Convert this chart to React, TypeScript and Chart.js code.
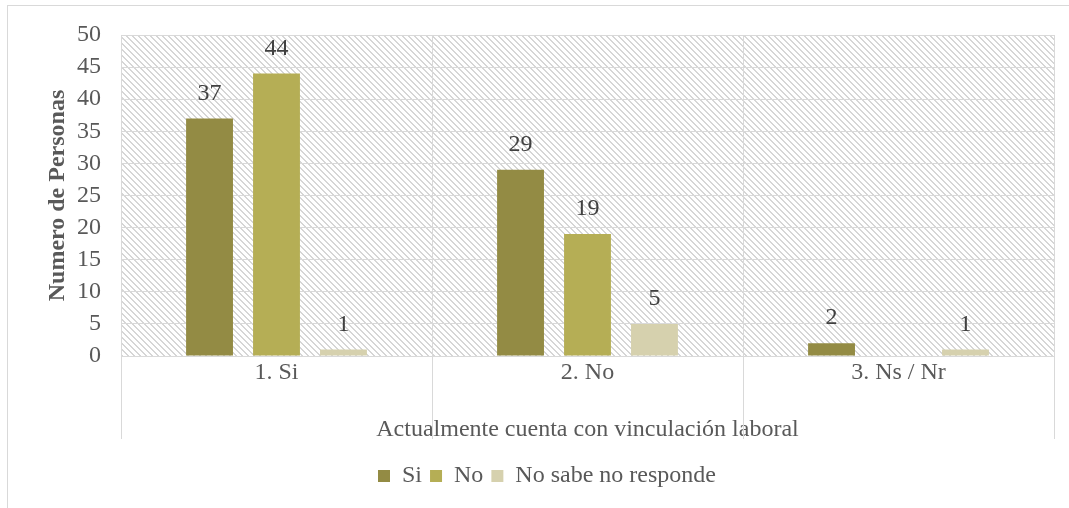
import React, { useEffect, useRef } from "react";
import { Chart, registerables } from "chart.js";

Chart.register(...registerables);

const categories = ["1. Si", "2. No", "3. Ns / Nr"];
const siValues = [37, 29, 2];
const noValues = [44, 19, null];
const nsnrValues = [1, 5, 1];
const seriesNames = ["Si", "No", "No sabe no responde"];
const seriesColors = ["#938B44", "#B5AE55", "#D6D1AE"];

const FONT = "'Liberation Serif', 'Times New Roman', serif";
const TEXT = "#595959";
const GRID = "#d9d9d9";
const FS = 24;

function makeHatch(): CanvasPattern | string {
  const c = document.createElement("canvas");
  c.width = 6;
  c.height = 6;
  const ctx = c.getContext("2d");
  if (!ctx) return "#ffffff";
  ctx.fillStyle = "#ffffff";
  ctx.fillRect(0, 0, 6, 6);
  ctx.fillStyle = "#d6d6d6";
  for (let i = 0; i < 6; i++) {
    ctx.fillRect(i, i, 1, 1);
    ctx.fillRect((i + 1) % 6, i, 1, 1);
  }
  const p = ctx.createPattern(c, "repeat");
  return p || "#ffffff";
}

const hatchPlugin = {
  id: "hatchBg",
  beforeDraw(chart: any) {
    const { ctx, chartArea } = chart;
    ctx.save();
    ctx.fillStyle = "#ffffff";
    ctx.fillRect(0, 0, chart.width, chart.height);
    ctx.strokeStyle = GRID;
    ctx.lineWidth = 1;
    ctx.strokeRect(7.5, 5.5, chart.width, chart.height);
    ctx.fillStyle = makeHatch();
    ctx.fillRect(chartArea.left, chartArea.top, chartArea.right - chartArea.left, chartArea.bottom - chartArea.top);
    ctx.restore();
  },
  afterDraw(chart: any) {
    const { ctx, chartArea } = chart;
    const xs = chart.scales.x;
    const n = categories.length;
    const w = (chartArea.right - chartArea.left) / n;
    ctx.save();
    ctx.strokeStyle = GRID;
    ctx.lineWidth = 1;
    for (let i = 0; i <= n; i++) {
      const center = i < n ? xs.getPixelForValue(i) - w / 2 : xs.getPixelForValue(n - 1) + w / 2;
      const x = Math.round(center) + 0.5;
      ctx.beginPath();
      ctx.moveTo(x, chartArea.bottom);
      ctx.lineTo(x, chartArea.bottom + 83);
      ctx.stroke();
    }
    ctx.restore();
  },
};

const labelPlugin = {
  id: "valueLabels",
  afterDatasetsDraw(chart: any) {
    const { ctx } = chart;
    ctx.save();
    ctx.font = `${FS}px ${FONT}`;
    ctx.fillStyle = "#404040";
    ctx.textAlign = "center";
    ctx.textBaseline = "middle";
    chart.data.datasets.forEach((ds: any, di: number) => {
      const meta = chart.getDatasetMeta(di);
      meta.data.forEach((el: any, i: number) => {
        const v = ds.data[i];
        if (v === null || v === undefined) return;
        ctx.fillText(String(v), el.x, el.y - 25);
      });
    });
    ctx.restore();
  },
};

export default function App() {
  const ref = useRef<HTMLCanvasElement>(null);
  useEffect(() => {
    document.body.style.margin = "0";
    if (!ref.current) return;
    const chart = new Chart(ref.current, {
      type: "bar",
      data: {
        labels: categories,
        datasets: [
          { label: seriesNames[0], data: siValues, backgroundColor: seriesColors[0] },
          { label: seriesNames[1], data: noValues, backgroundColor: seriesColors[1] },
          { label: seriesNames[2], data: nsnrValues, backgroundColor: seriesColors[2] },
        ],
      },
      options: {
        animation: false,
        responsive: false,
        maintainAspectRatio: false,
        datasets: { bar: { categoryPercentage: 0.646, barPercentage: 0.7 } },
        layout: { padding: { left: 40, top: 35, right: 15, bottom: 10 } },
        plugins: {
          legend: {
            position: "bottom",
            labels: {
              font: { family: FONT, size: FS },
              color: TEXT,
              boxWidth: 12,
              boxHeight: 12,
              padding: 8,
            },
          },
          tooltip: { enabled: false },
        },
        scales: {
          x: {
            grid: { display: true, offset: true, color: GRID, drawTicks: false },
            border: { color: GRID },
            ticks: { font: { family: FONT, size: FS }, color: TEXT, padding: 2 },
            title: {
              display: true,
              text: "Actualmente cuenta con vinculación laboral",
              font: { family: FONT, size: FS },
              color: TEXT,
              padding: { top: 4, bottom: 12 },
            },
            afterFit: (s: any) => {
              s.height = 100;
            },
          },
          y: {
            min: 0,
            max: 50,
            ticks: { stepSize: 5, font: { family: FONT, size: FS }, color: TEXT, padding: 20 },
            grid: { color: GRID, drawTicks: false },
            border: { display: false },
            title: {
              display: true,
              text: "Numero de Personas",
              font: { family: FONT, size: FS, weight: "bold" },
              color: TEXT,
              padding: { top: 3, bottom: 0 },
            },
            afterFit: (s: any) => {
              s.width = 81;
            },
          },
        },
      },
      plugins: [hatchPlugin, labelPlugin],
    } as any);
    return () => chart.destroy();
  }, []);
  return (
    <div style={{ position: "fixed", left: 0, top: 0, width: 1069, height: 508 }}>
      <canvas ref={ref} width={1069} height={508} style={{ width: 1069, height: 508 }} />
    </div>
  );
}
